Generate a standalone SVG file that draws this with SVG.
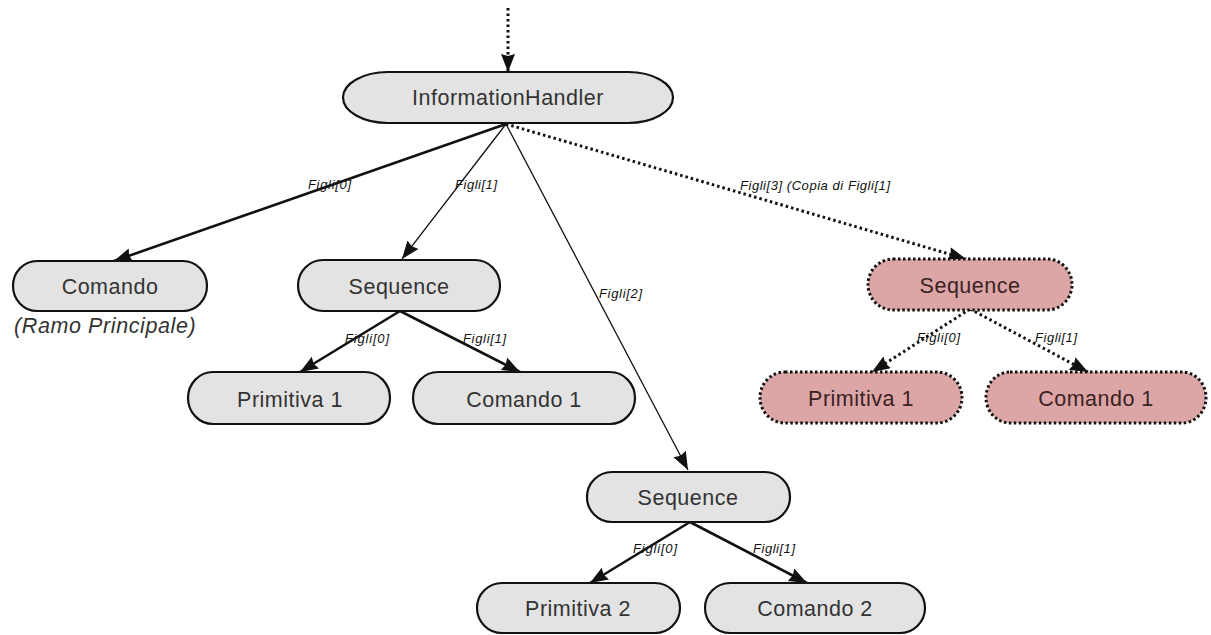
<svg xmlns="http://www.w3.org/2000/svg" width="1211" height="635" viewBox="0 0 1211 635">
  <defs>
    <style>
      .node { fill: #e3e3e3; stroke: #111; stroke-width: 2.2; }
      .copy { fill: #dca6a6; stroke: #111; stroke-width: 3; stroke-dasharray: 2.5 2.5; }
      .ntext { font-family: "Liberation Sans", Arial, sans-serif; font-size: 21.5px; fill: #333; text-anchor: middle; letter-spacing: 0.5px; }
      .ctext { fill: #3a2222; }
      .note { font-family: "Liberation Sans", Arial, sans-serif; font-size: 21.5px; font-style: italic; fill: #333; letter-spacing: 0.6px; }
      .lbl { font-family: "Liberation Sans", Arial, sans-serif; font-size: 13px; font-style: italic; fill: #111; }
      .thick { stroke: #111; stroke-width: 2.6; fill: none; }
      .thin { stroke: #111; stroke-width: 1.3; fill: none; }
      .dot { stroke: #111; stroke-width: 3; stroke-dasharray: 2.5 3; fill: none; }
    </style>
    <marker id="head" markerUnits="userSpaceOnUse" markerWidth="20" markerHeight="16" refX="18" refY="7" orient="auto">
      <path d="M0,0 L18,7 L0,14 L2,7 Z" fill="#111"/>
    </marker>
  </defs>

  <!-- connectors -->
  <g id="connectors">
    <line class="dot" x1="508" y1="8" x2="508" y2="72" marker-end="url(#head)"/>
    <line class="thick" x1="506" y1="124" x2="114" y2="261" marker-end="url(#head)"/>
    <line class="thin" x1="506" y1="124" x2="402" y2="259" marker-end="url(#head)"/>
    <line class="thin" x1="506" y1="124" x2="688" y2="470" marker-end="url(#head)"/>
    <line class="dot" x1="506" y1="124" x2="966" y2="259" marker-end="url(#head)"/>
    <line class="thick" x1="400" y1="311" x2="300" y2="372" marker-end="url(#head)"/>
    <line class="thick" x1="400" y1="311" x2="520" y2="372" marker-end="url(#head)"/>
    <line class="dot" x1="970" y1="309" x2="872" y2="372" marker-end="url(#head)"/>
    <line class="dot" x1="970" y1="309" x2="1088" y2="372" marker-end="url(#head)"/>
    <line class="thick" x1="690" y1="522" x2="590" y2="583" marker-end="url(#head)"/>
    <line class="thick" x1="690" y1="522" x2="807" y2="583" marker-end="url(#head)"/>

    <text class="lbl" x="308" y="189" textLength="43">Figli[0]</text>
    <text class="lbl" x="455" y="189" textLength="42">Figli[1]</text>
    <text class="lbl" x="599" y="298" textLength="43">Figli[2]</text>
    <text class="lbl" x="740" y="190" textLength="150">Figli[3] (Copia di Figli[1]</text>
    <text class="lbl" x="345" y="343" textLength="44">Figli[0]</text>
    <text class="lbl" x="463" y="343" textLength="43">Figli[1]</text>
    <text class="lbl" x="917" y="342" textLength="43">Figli[0]</text>
    <text class="lbl" x="1035" y="342" textLength="42">Figli[1]</text>
    <text class="lbl" x="633" y="553" textLength="44">Figli[0]</text>
    <text class="lbl" x="753" y="553" textLength="42">Figli[1]</text>
  </g>

  <!-- root -->
  <g id="information-handler">
    <path class="node" d="M388,72 H628 A45,25.5 0 0 1 628,123 H388 A45,25.5 0 0 1 388,72 Z"/>
    <text class="ntext" x="508" y="105">InformationHandler</text>
  </g>

  <!-- main branch -->
  <g id="comando">
    <path class="node" d="M37,261 H183 A24,25 0 0 1 183,311 H37 A24,25 0 0 1 37,261 Z"/>
    <text class="ntext" x="110" y="294">Comando</text>
    <text class="note" x="14" y="333">(Ramo Principale)</text>
  </g>

  <!-- Figli[1] subtree -->
  <g id="sequence-1">
    <path class="node" d="M323,260 H475 A25,25.5 0 0 1 475,311 H323 A25,25.5 0 0 1 323,260 Z"/>
    <text class="ntext" x="399" y="294">Sequence</text>
  </g>
  <g id="primitiva-1">
    <path class="node" d="M213,372 H365 A25,26 0 0 1 365,424 H213 A25,26 0 0 1 213,372 Z"/>
    <text class="ntext" x="290" y="407">Primitiva 1</text>
  </g>
  <g id="comando-1">
    <path class="node" d="M438,372 H610 A25,26 0 0 1 610,424 H438 A25,26 0 0 1 438,372 Z"/>
    <text class="ntext" x="524" y="407">Comando 1</text>
  </g>

  <!-- Figli[2] subtree -->
  <g id="sequence-2">
    <path class="node" d="M612,472 H765 A25,25 0 0 1 765,522 H612 A25,25 0 0 1 612,472 Z"/>
    <text class="ntext" x="688" y="505">Sequence</text>
  </g>
  <g id="primitiva-2">
    <path class="node" d="M502,583 H655 A25,25 0 0 1 655,633 H502 A25,25 0 0 1 502,583 Z"/>
    <text class="ntext" x="578" y="616">Primitiva 2</text>
  </g>
  <g id="comando-2">
    <path class="node" d="M730,583 H900 A25,25 0 0 1 900,633 H730 A25,25 0 0 1 730,583 Z"/>
    <text class="ntext" x="815" y="616">Comando 2</text>
  </g>

  <!-- Figli[3]: copy of Figli[1] -->
  <g id="sequence-copy">
    <path class="copy" d="M893,259 H1047 A25,25.5 0 0 1 1047,310 H893 A25,25.5 0 0 1 893,259 Z"/>
    <text class="ntext ctext" x="970" y="293">Sequence</text>
  </g>
  <g id="primitiva-1-copy">
    <path class="copy" d="M785,372 H937 A25,25.5 0 0 1 937,423 H785 A25,25.5 0 0 1 785,372 Z"/>
    <text class="ntext ctext" x="861" y="406">Primitiva 1</text>
  </g>
  <g id="comando-1-copy">
    <path class="copy" d="M1010,372 H1182 A24,25.5 0 0 1 1182,423 H1010 A24,25.5 0 0 1 1010,372 Z"/>
    <text class="ntext ctext" x="1096" y="406">Comando 1</text>
  </g>
</svg>
